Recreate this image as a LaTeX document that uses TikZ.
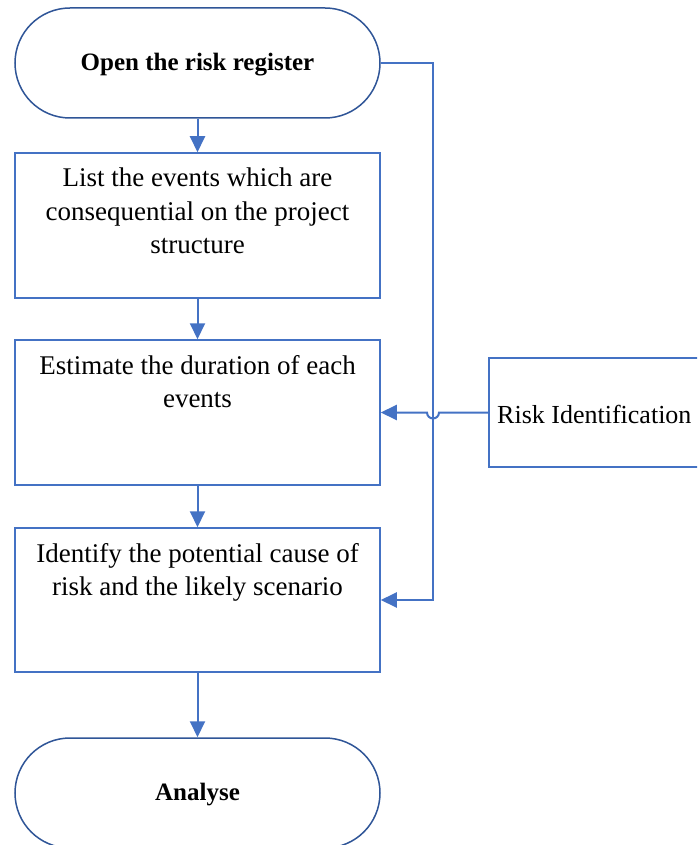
\documentclass[tikz,border=0pt]{standalone}
\usepackage{fontspec}
\setmainfont{Liberation Serif}
\usetikzlibrary{arrows.meta}
\definecolor{termblue}{HTML}{2F5597}
\definecolor{boxblue}{HTML}{4472C4}
\begin{document}
\begin{tikzpicture}[x=1pt,y=-1pt,
  terminal/.style={draw=termblue,line width=1.5pt,rectangle,rounded corners=55pt,
    minimum width=365pt,minimum height=110pt,inner sep=0pt,text height=18pt,text depth=3pt,
    font=\fontsize{25}{30}\selectfont\bfseries},
  stepbox/.style={draw=boxblue,line width=1.5pt,rectangle,inner sep=0pt,
    font=\fontsize{27}{33.5}\selectfont},
  conn/.style={draw=boxblue,line width=2pt},
  arr/.style={conn,-{Triangle[length=16pt,width=15pt]}}]
\useasboundingbox (0,0) rectangle (697,845);
\clip (0,0) rectangle (697,845);
\node[terminal] (open) at (197.5,63) {Open the risk register};
\node[stepbox] (list) at (197.5,225.5) {\parbox[c][145pt][t]{365pt}{\centering\vspace*{15pt}List the events which are\\consequential on the project\\structure}};
\node[stepbox] (est) at (197.5,412.5) {\parbox[c][145pt][t]{365pt}{\centering\vspace*{15pt}Estimate the duration of each\\events}};
\node[stepbox] (ident) at (197.5,600) {\parbox[c][144pt][t]{365pt}{\centering\vspace*{15pt}Identify the potential cause of\\risk and the likely scenario}};
\node[terminal] (anal) at (197.5,793) {Analyse};
\node[stepbox,minimum width=240pt,minimum height=109pt,anchor=west] (risk) at (488,412.5) {};
\node[font=\fontsize{26}{33.5}\selectfont,anchor=west,inner sep=0pt] (risklbl) at (497,414) {Risk Identification};
\coordinate (c1) at (433,63);
\coordinate (c2) at (433,600);
\draw[arr] (open.south) -- (list.north);
\draw[arr] (list.south) -- (est.north);
\draw[arr] (est.south) -- (ident.north);
\draw[arr] (ident.south) -- (anal.north);
\draw[arr] (open.east) -- (c1) -- (c2) -- (ident.east);
\draw[arr] (risk.west) -- (439,412.5) arc[start angle=0,end angle=180,radius=6] -- (est.east);
\end{tikzpicture}
\end{document}
